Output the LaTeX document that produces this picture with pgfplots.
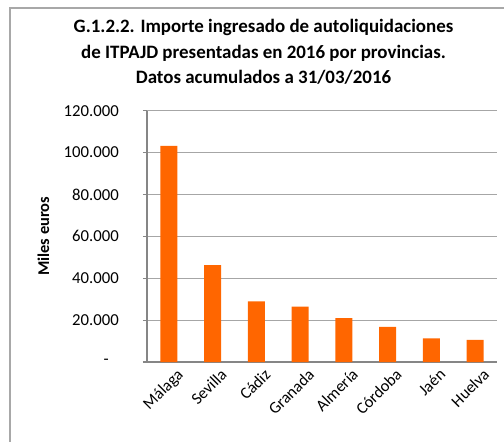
\documentclass[border=0pt]{standalone}
\usepackage{fontspec}
\setmainfont{Carlito}
\usepackage{pgfplots}
\pgfplotsset{compat=1.18}
\definecolor{barorange}{HTML}{FF6600}
\definecolor{gridgray}{HTML}{A6A6A6}
\definecolor{axisgray}{HTML}{868686}
\definecolor{framegray}{HTML}{A8A8A8}
\begin{document}
\begin{tikzpicture}
\path[use as bounding box] (0,0) rectangle (504bp,442bp);
\draw[framegray, line width=1.3bp] (10bp,0) -- (10bp,434bp) -- (504bp,434bp);
\node[align=center, font=\fontsize{19}{25.5}\selectfont\bfseries] at (263.5bp,390bp)
  {G.1.2.2. Importe ingresado de autoliquidaciones\\de ITPAJD presentadas en 2016 por provincias.\\Datos acumulados a 31/03/2016};
\begin{axis}[
  at={(147bp,80bp)}, anchor=south west,
  scale only axis, width=350bp, height=251.3bp,
  xmin=-0.5, xmax=7.5, ymin=0, ymax=120000,
  ybar, bar width=17bp,
  xtick={0,1,2,3,4,5,6,7},
  xticklabels={Málaga,Sevilla,Cádiz,Granada,Almería,Córdoba,Jaén,Huelva},
  xticklabel style={rotate=45, anchor=north east, font=\fontsize{16.5}{16.5}\selectfont, inner sep=0pt, xshift=4bp, yshift=-6bp},
  ytick={0,20000,40000,60000,80000,100000,120000},
  yticklabels={{-\kern10bp},20.000,40.000,60.000,80.000,100.000,120.000},
  yticklabel style={font=\fontsize{16.8}{16.8}\selectfont, inner sep=0pt, anchor=east, xshift=-24bp},
  scaled y ticks=false,
  xtick style={draw=none},
  ytick pos=left, tick align=outside, major tick length=4bp,
  ytick style={axisgray, line width=1.2bp},
  ymajorgrids, grid style={gridgray, line width=1.2bp},
  axis x line*=bottom, axis y line*=left,
  axis line style={axisgray, line width=1.6bp, -},
  ylabel={Miles euros},
  every axis y label/.style={at={(axis description cs:-0.2957,0.5)}, rotate=90, anchor=center, font=\fontsize{16.5}{16.5}\selectfont\bfseries},
  clip=false,
]
\addplot[fill=barorange, draw=none] coordinates {
  (0,103200) (1,46200) (2,28900) (3,26500) (4,20950) (5,16800) (6,11300) (7,10600)
};
\end{axis}
\end{tikzpicture}
\end{document}
